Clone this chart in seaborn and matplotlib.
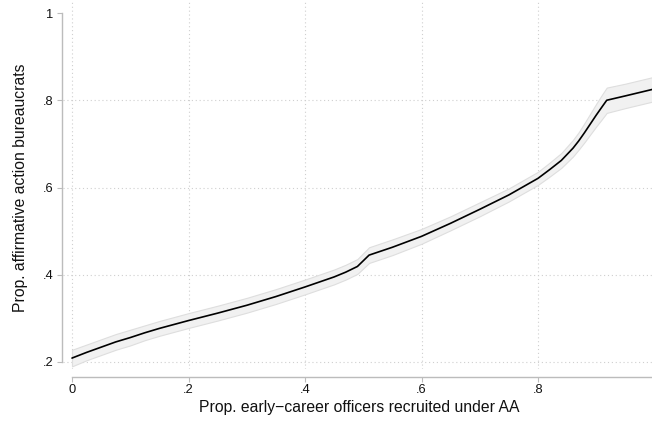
import numpy as np
import pandas as pd
import matplotlib
matplotlib.use("Agg")
import matplotlib.pyplot as plt
import seaborn as sns

# Fitted share of affirmative-action bureaucrats by early-career AA recruitment share
share_aa_recruits = [0.000, 0.025, 0.050, 0.075, 0.100, 0.125, 0.150, 0.200, 0.250, 0.300,
                     0.350, 0.400, 0.450, 0.470, 0.490, 0.510, 0.530, 0.550, 0.600, 0.650,
                     0.700, 0.750, 0.800, 0.820, 0.840, 0.860, 0.870, 0.880, 0.890, 0.900,
                     0.910, 0.918, 0.950, 1.000]
fitted_share = [0.209, 0.222, 0.234, 0.246, 0.256, 0.267, 0.277, 0.295, 0.312, 0.330,
                0.350, 0.372, 0.395, 0.406, 0.419, 0.445, 0.454, 0.463, 0.488, 0.518,
                0.550, 0.583, 0.621, 0.641, 0.662, 0.690, 0.707, 0.726, 0.746, 0.766,
                0.785, 0.800, 0.810, 0.826]
ci_halfwidth = [0.019, 0.018, 0.018, 0.018, 0.018, 0.017, 0.017, 0.017, 0.017, 0.017,
                0.017, 0.017, 0.017, 0.017, 0.017, 0.018, 0.018, 0.018, 0.017, 0.016,
                0.016, 0.015, 0.015, 0.016, 0.017, 0.019, 0.020, 0.022, 0.024, 0.026,
                0.028, 0.029, 0.028, 0.028]

x_ticks = [0, 0.2, 0.4, 0.6, 0.8, 1.0]
x_tick_labels = ["0", ".2", ".4", ".6", ".8", ""]
y_ticks = [0.2, 0.4, 0.6, 0.8, 1.0]
y_tick_labels = [".2", ".4", ".6", ".8", "1"]

df = pd.DataFrame({"x": share_aa_recruits, "y": fitted_share, "hw": ci_halfwidth})
df["lo"] = df["y"] - df["hw"]
df["hi"] = df["y"] + df["hw"]

sns.set_theme(style="white")
plt.rcParams["font.family"] = ["Liberation Sans", "DejaVu Sans"]

W, H = 652, 425
fig = plt.figure(figsize=(W / 100, H / 100), dpi=100)
fig.patch.set_facecolor("white")

# plot region in pixels
left_px, right_px, top_px, bottom_px = 63, 654.5, 0, 369
ax = fig.add_axes([left_px / W, 1 - bottom_px / H,
                   (right_px - left_px) / W, (bottom_px - top_px) / H])
ax.set_facecolor("white")
ax.set_xlim(-9 / 582.5, 1.0)
ax.set_ylim(0.2 - 7 / 436.25, 1 + 13 / 436.25)

grid_kw = dict(color="#cfcfcf", linewidth=0.8, linestyle=(0, (1, 2.5)), zorder=0)
for xv in x_ticks[:-1]:
    ax.axvline(xv, **grid_kw)
for yv in y_ticks[:-1]:
    ax.axhline(yv, **grid_kw)

ax.fill_between(df["x"], df["lo"], df["hi"], facecolor="#f1f1f1",
                edgecolor="#dedede", linewidth=0.8, zorder=1)
sns.lineplot(data=df, x="x", y="y", color="black", linewidth=1.2,
             estimator=None, sort=False, ax=ax, zorder=2)

for side in ["top", "right"]:
    ax.spines[side].set_visible(False)
spine_color = "#bcbcbc"
ax.spines["left"].set_position(("outward", 1))
ax.spines["bottom"].set_position(("outward", 5.8))
ax.spines["left"].set_bounds(0.2, 1.0)
ax.spines["bottom"].set_bounds(0.0, 1.0)
for side in ["left", "bottom"]:
    ax.spines[side].set_color(spine_color)
    ax.spines[side].set_linewidth(1.0)

ax.set_xticks(x_ticks)
ax.set_xticklabels(x_tick_labels)
ax.set_yticks(y_ticks)
ax.set_yticklabels(y_tick_labels)
ax.tick_params(axis="both", which="major", direction="out", length=3.6, width=0.8,
               color=spine_color, labelsize=9.3, labelcolor="#111111", pad=2.5,
               left=True, bottom=True)
ax.tick_params(axis="x", pad=1.5)

ax.set_xlabel("Prop. early\u2212career officers recruited under AA", fontsize=11.3,
              color="#111111", labelpad=3)
ax.set_ylabel("Prop. affirmative action bureaucrats", fontsize=11.3, color="#111111")
ax.yaxis.set_label_coords(-35 / (right_px - left_px), (bottom_px - 187.5) / (bottom_px - top_px))

fig.savefig("out.png", dpi=100, facecolor="white")
